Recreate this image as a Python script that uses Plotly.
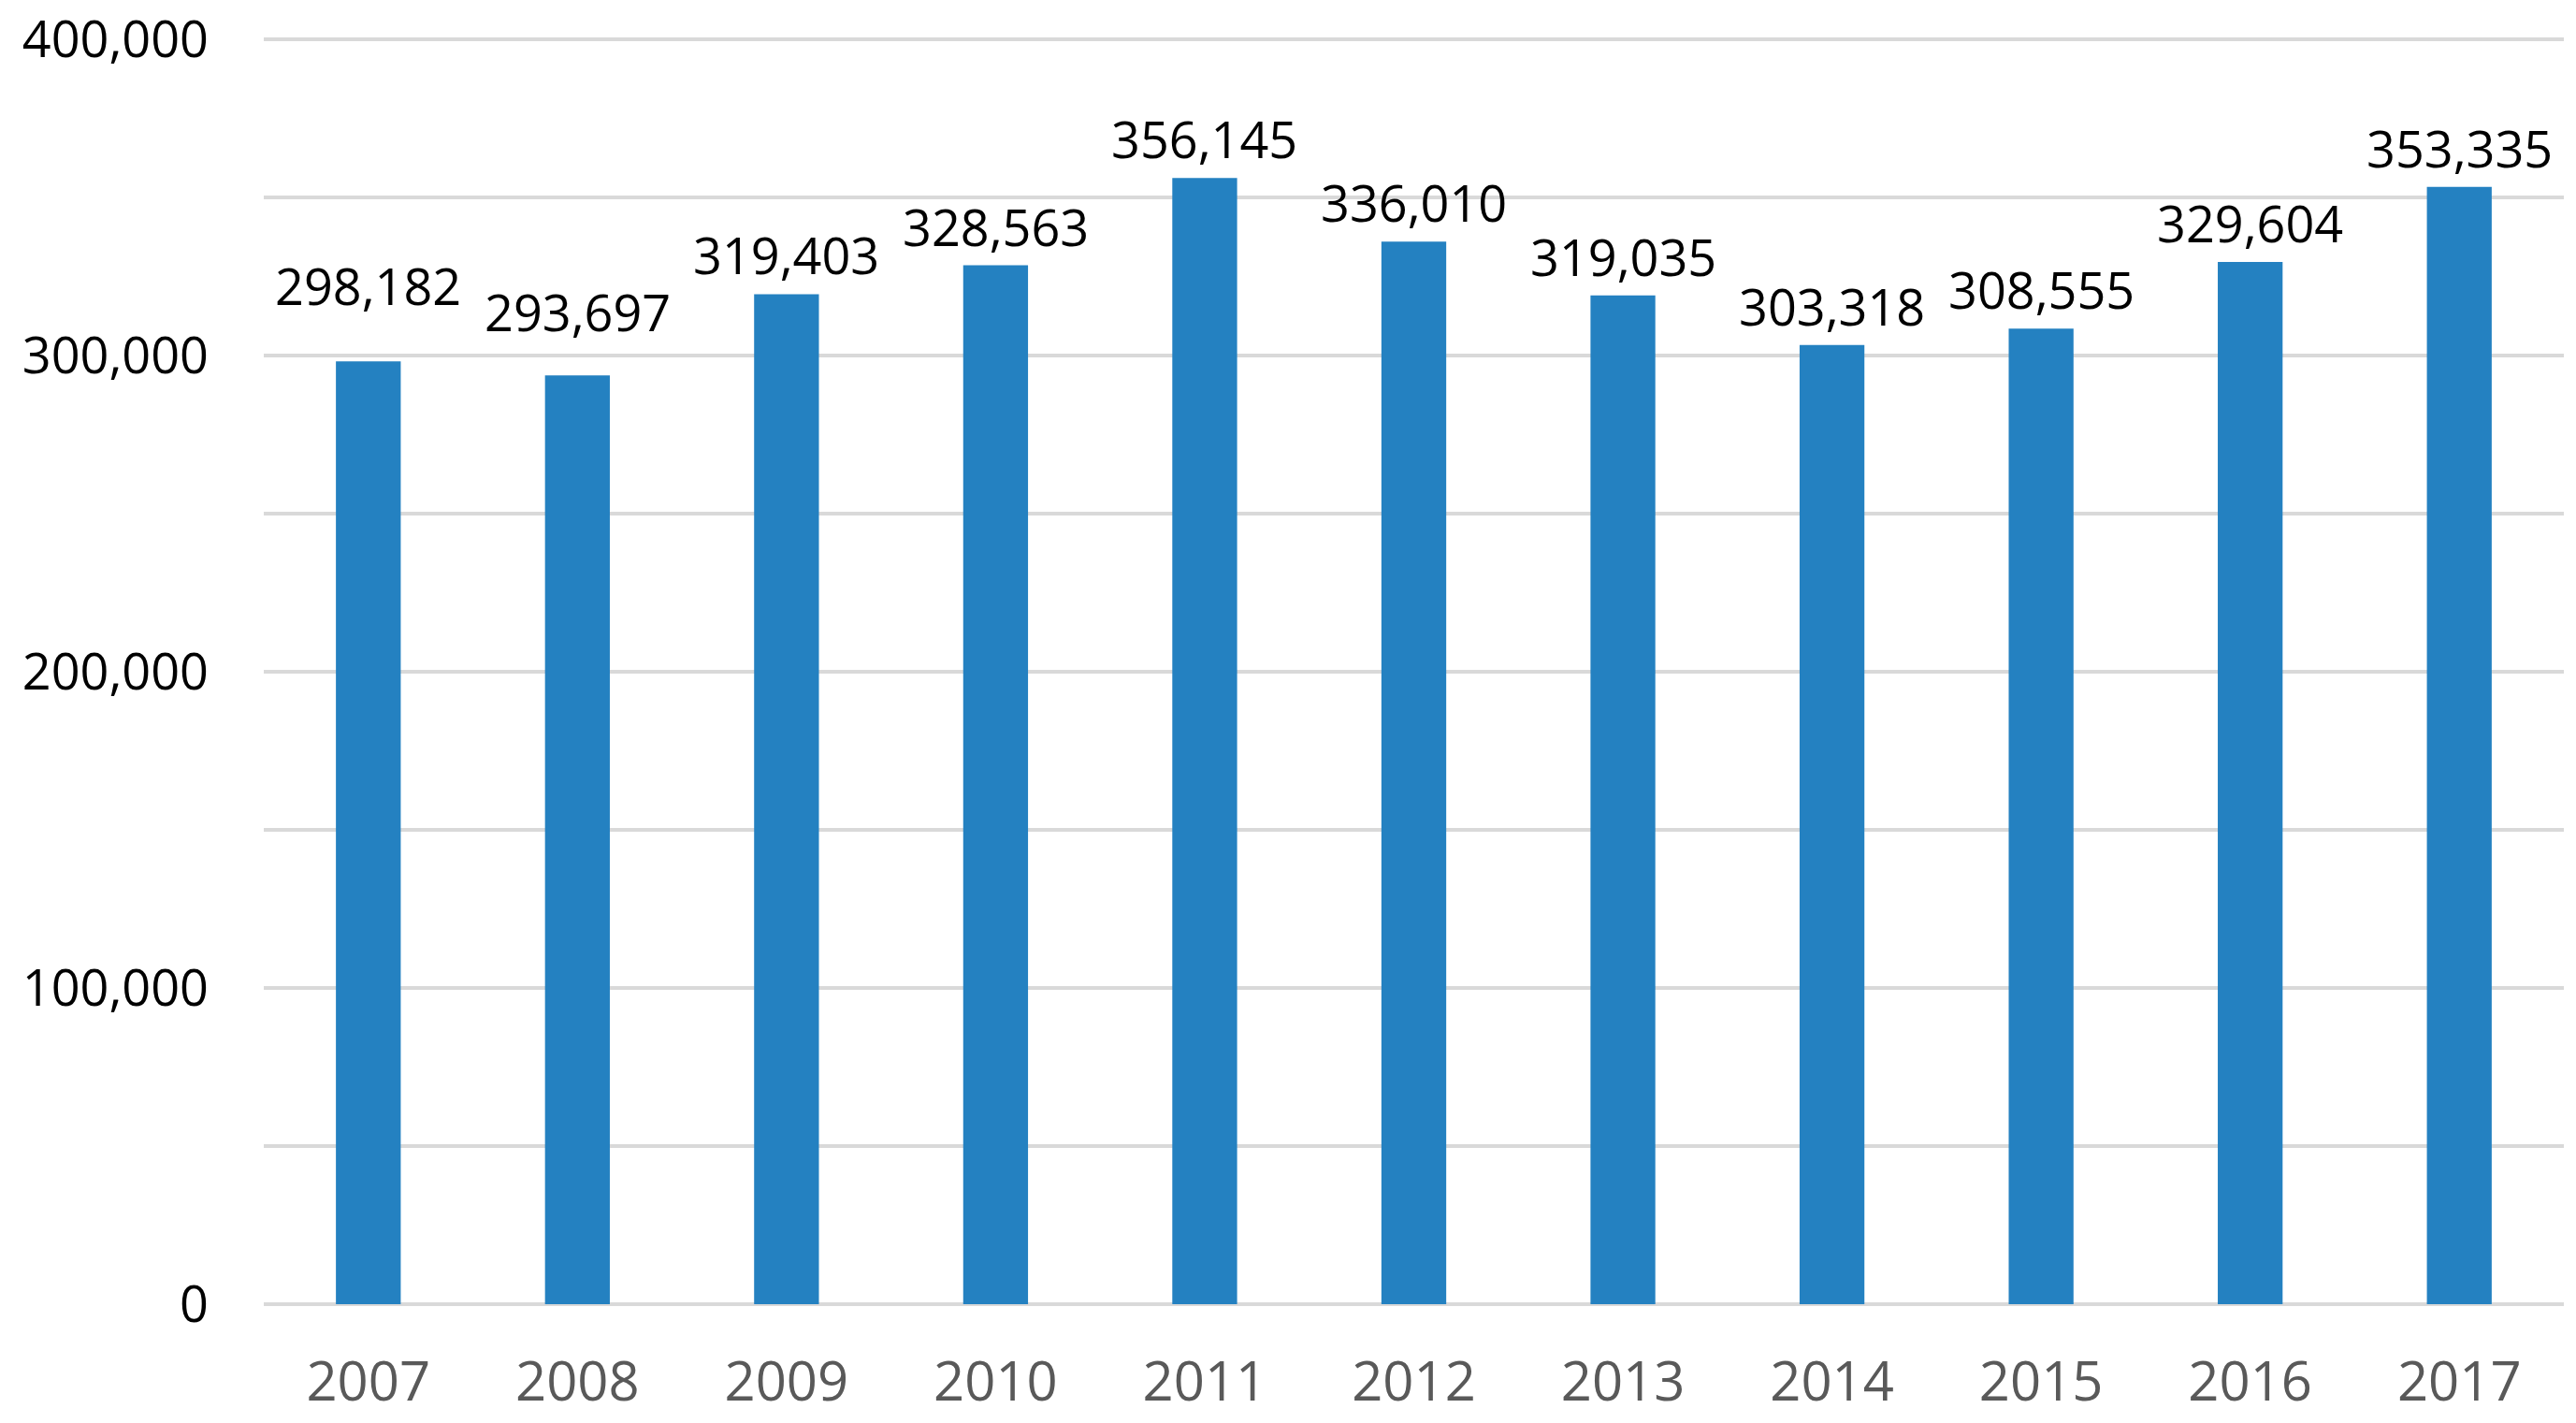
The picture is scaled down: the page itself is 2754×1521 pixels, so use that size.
import plotly.graph_objects as go

years = ["2007", "2008", "2009", "2010", "2011", "2012", "2013", "2014", "2015", "2016", "2017"]
values = [298182, 293697, 319403, 328563, 356145, 336010, 319035, 303318, 308555, 329604, 353335]
y_ticks = [0, 100000, 200000, 300000, 400000]
y_tick_labels = ["0", "100,000", "200,000", "300,000", "400,000"]

# label offset above bar top (px), a couple of labels sit higher in the original
label_offsets = {"2007": 81, "2008": 68}
default_offset = 42

FONT = "Open Sans"
BAR_COLOR = "#2481c1"
GRID = "#d9d9d9"

fig = go.Figure()
fig.add_trace(go.Bar(x=years, y=values, marker=dict(color=BAR_COLOR, line=dict(width=0)),
                     hoverinfo="x+y"))

for i, (yr, v) in enumerate(zip(years, values)):
    fig.add_annotation(x=i, y=v, xref="x", yref="y", text=f"{v:,}", showarrow=False,
                       yanchor="middle", xanchor="center",
                       yshift=label_offsets.get(yr, default_offset),
                       font=dict(family=FONT, size=54, color="#000000"))

fig.update_layout(
    width=2754, height=1521,
    paper_bgcolor="white", plot_bgcolor="white",
    margin=dict(l=274, r=21, t=30, b=135),
    bargap=0.69,
    showlegend=False,
    font=dict(family=FONT),
)
fig.update_xaxes(
    type="category",
    range=[-0.5, len(years) - 0.5],
    automargin=False,
    showgrid=False, showline=False, zeroline=False,
    tickfont=dict(family=FONT, size=58, color="#595959"),
    ticklabelstandoff=44,
)
fig.update_yaxes(
    range=[0, y_ticks[-1] * 1.003],
    automargin=False,
    ticklabeloverflow="allow",
    tickvals=y_ticks, ticktext=y_tick_labels,
    showgrid=True, gridcolor=GRID, gridwidth=4,
    minor=dict(dtick=50000, showgrid=True, gridcolor=GRID, gridwidth=4),
    zeroline=True, zerolinecolor=GRID, zerolinewidth=4,
    showline=False,
    tickfont=dict(family=FONT, size=54, color="#000000"),
    ticklabelstandoff=58,
)

fig.write_html("out.html")
